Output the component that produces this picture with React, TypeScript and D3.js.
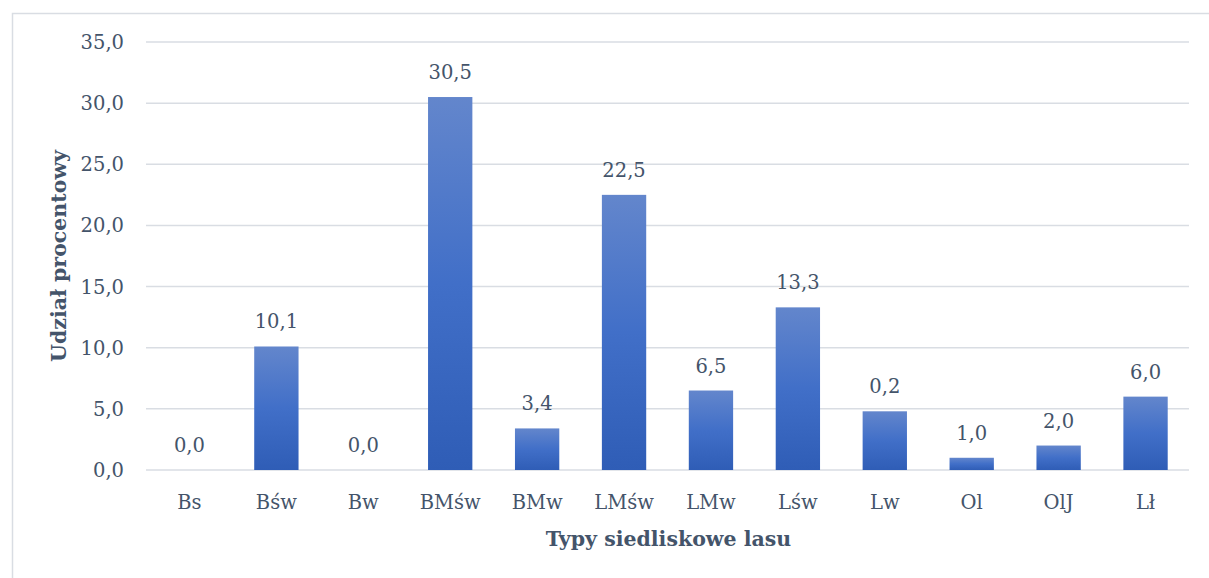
import React from "react";
import * as d3 from "d3";

const categories = ["Bs", "Bśw", "Bw", "BMśw", "BMw", "LMśw", "LMw", "Lśw", "Lw", "Ol", "OlJ", "Lł"];
const barValues = [0, 10.1, 0, 30.5, 3.4, 22.5, 6.5, 13.3, 4.8, 1.0, 2.0, 6.0];
const valueLabels = ["0,0", "10,1", "0,0", "30,5", "3,4", "22,5", "6,5", "13,3", "0,2", "1,0", "2,0", "6,0"];
const yTicks = [0, 5, 10, 15, 20, 25, 30, 35];

const W = 1209;
const H = 578;
const M = { left: 146, right: 1189, top: 42, bottom: 470 };
const TEXT = "#44546a";
const GRID = "#d9dde3";
const FONT = "'DejaVu Serif', 'Liberation Serif', serif";
const FS = 19.5;
const FS_TITLE = 20.5;

export default function App() {
  const x = d3.scaleBand<string>().domain(categories).range([M.left, M.right]).paddingInner(0.49).paddingOuter(0.245);
  const y = d3.scaleLinear().domain([0, 35]).range([M.bottom, M.top]);
  const fmt = (v: number) => d3.format(".1f")(v).replace(".", ",");

  return (
    <svg width={W} height={H} style={{ position: "absolute", left: 0, top: 0, background: "#fff" }}>
      <defs>
        <linearGradient id="barGrad" x1="0" y1="0" x2="0" y2="1">
          <stop offset="0%" stopColor="#6386cc" />
          <stop offset="50%" stopColor="#416fc8" />
          <stop offset="100%" stopColor="#2f5db6" />
        </linearGradient>
      </defs>
      <rect x={12.5} y={13.5} width={W + 10} height={H + 10} fill="#fff" stroke={GRID} strokeWidth={1.5} />
      {yTicks.map((t) => (
        <g key={t}>
          <line x1={M.left} x2={M.right} y1={y(t)} y2={y(t)} stroke={GRID} strokeWidth={1.5} />
          <text x={124} y={y(t) + 7} textAnchor="end" fill={TEXT} fontFamily={FONT} fontSize={FS}>
            {fmt(t)}
          </text>
        </g>
      ))}
      {categories.map((c, i) => (
        <g key={c}>
          <rect x={x(c)} y={y(barValues[i])} width={x.bandwidth()} height={y(0) - y(barValues[i])} fill="url(#barGrad)" />
          <text x={(x(c) as number) + x.bandwidth() / 2} y={y(barValues[i]) - 18} textAnchor="middle" fill={TEXT} fontFamily={FONT} fontSize={FS}>
            {valueLabels[i]}
          </text>
          <text x={(x(c) as number) + x.bandwidth() / 2} y={509} textAnchor="middle" fill={TEXT} fontFamily={FONT} fontSize={FS}>
            {c}
          </text>
        </g>
      ))}
      <text x={(M.left + M.right) / 2 + 1} y={546} textAnchor="middle" fill={TEXT} fontFamily={FONT} fontSize={FS_TITLE} fontWeight="bold">
        Typy siedliskowe lasu
      </text>
      <text transform={`translate(66, ${(M.top + M.bottom) / 2}) rotate(-90)`} textAnchor="middle" fill={TEXT} fontFamily={FONT} fontSize={FS_TITLE} fontWeight="bold">
        Udział procentowy
      </text>
    </svg>
  );
}
